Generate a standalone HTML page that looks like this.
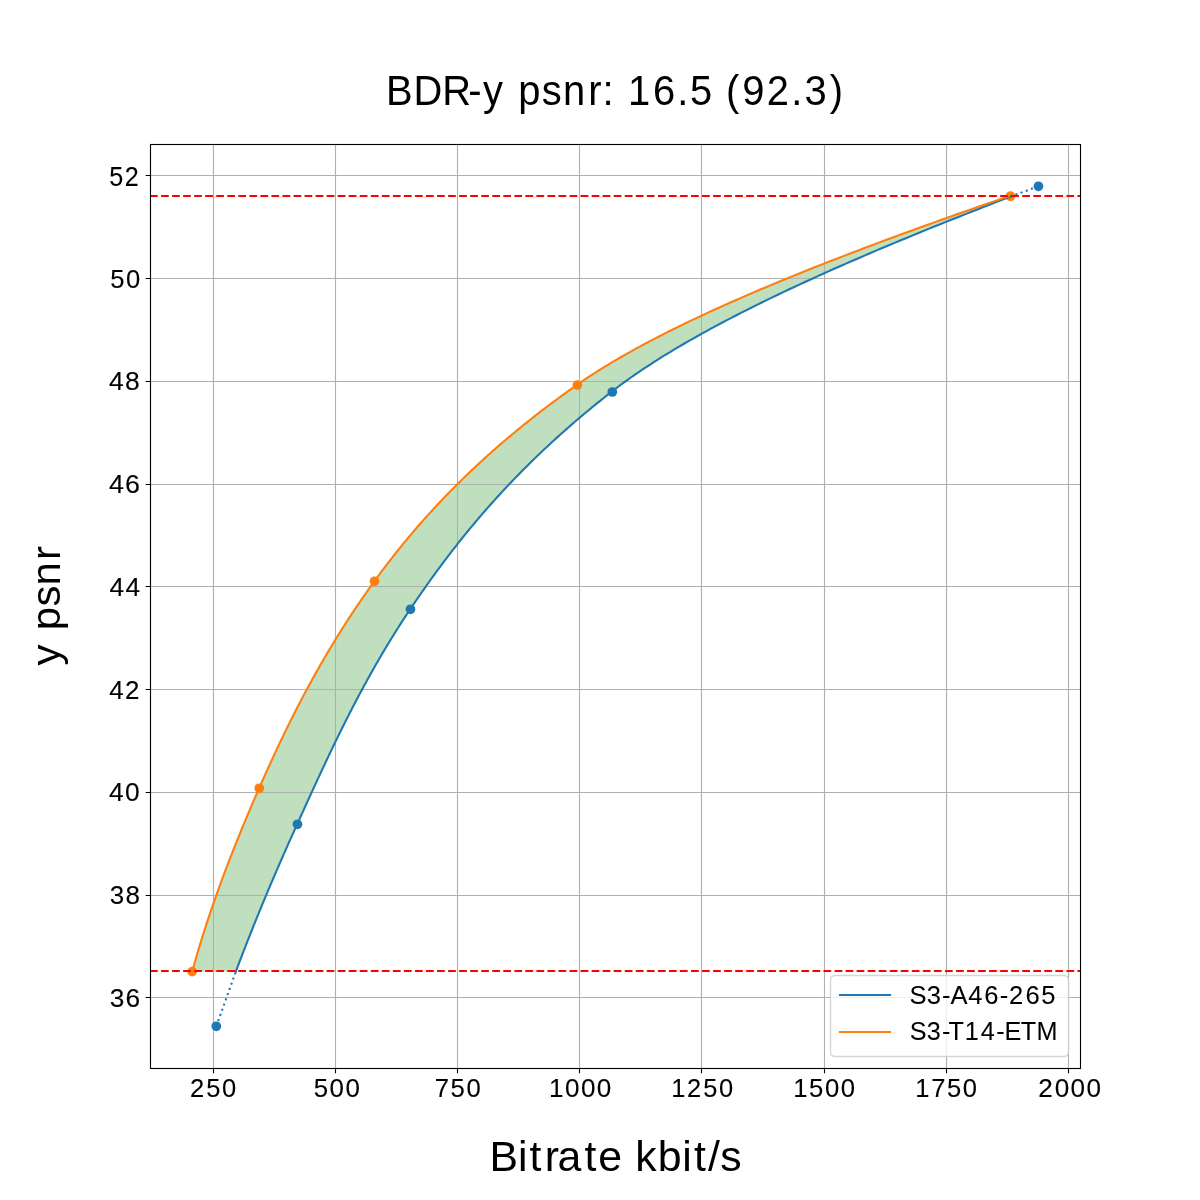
<!DOCTYPE html>
<html><head><meta charset="utf-8"><title>BDR-y psnr</title><style>
html,body{margin:0;padding:0;background:#fff;width:1200px;height:1200px;overflow:hidden}
svg{display:block;will-change:transform}
text{font-family:"Liberation Sans",sans-serif;fill:#000}
</style></head><body>
<svg width="1200" height="1200" viewBox="0 0 1200 1200">
<rect width="1200" height="1200" fill="#fff"/>
<polygon points="235.82,971.60 236.79,969.01 237.77,966.41 238.75,963.82 239.74,961.23 240.73,958.63 241.72,956.04 242.72,953.45 243.72,950.85 244.73,948.26 245.74,945.67 246.75,943.07 247.77,940.48 248.79,937.89 249.82,935.29 250.85,932.70 251.88,930.11 252.92,927.51 253.96,924.92 255.01,922.33 256.06,919.73 257.11,917.14 258.17,914.55 259.23,911.95 260.29,909.36 261.36,906.77 262.43,904.17 263.50,901.58 264.58,898.99 265.66,896.39 266.75,893.80 267.84,891.21 268.93,888.61 270.03,886.02 271.13,883.43 272.23,880.83 273.34,878.24 274.45,875.65 275.56,873.05 276.68,870.46 277.80,867.87 278.93,865.27 280.05,862.68 281.19,860.09 282.32,857.49 283.46,854.90 284.60,852.31 285.74,849.71 286.89,847.12 288.04,844.53 289.20,841.93 290.35,839.34 291.51,836.75 292.68,834.15 293.84,831.56 295.01,828.97 296.19,826.37 297.36,823.78 298.54,821.19 299.72,818.59 300.89,816.00 302.07,813.41 303.25,810.81 304.43,808.22 305.61,805.63 306.79,803.03 307.98,800.44 309.16,797.85 310.35,795.25 311.53,792.66 312.72,790.07 313.91,787.47 315.11,784.88 316.31,782.29 317.50,779.69 318.71,777.10 319.91,774.51 321.12,771.92 322.33,769.32 323.54,766.73 324.76,764.14 325.98,761.54 327.21,758.95 328.44,756.36 329.67,753.76 330.91,751.17 332.16,748.58 333.40,745.98 334.66,743.39 335.92,740.80 337.18,738.20 338.45,735.61 339.72,733.02 341.00,730.42 342.29,727.83 343.58,725.24 344.88,722.64 346.18,720.05 347.49,717.46 348.81,714.86 350.13,712.27 351.47,709.68 352.80,707.08 354.15,704.49 355.50,701.90 356.87,699.30 358.24,696.71 359.61,694.12 361.00,691.52 362.39,688.93 363.80,686.34 365.21,683.74 366.63,681.15 368.06,678.56 369.49,675.96 370.94,673.37 372.40,670.78 373.87,668.18 375.34,665.59 376.83,663.00 378.33,660.40 379.84,657.81 381.35,655.22 382.88,652.62 384.42,650.03 385.97,647.44 387.53,644.84 389.11,642.25 390.69,639.66 392.29,637.06 393.90,634.47 395.52,631.88 397.15,629.28 398.79,626.69 400.45,624.10 402.12,621.50 403.80,618.91 405.50,616.32 407.21,613.72 408.93,611.13 410.66,608.54 412.41,605.94 414.16,603.35 415.93,600.76 417.71,598.16 419.49,595.57 421.29,592.98 423.10,590.38 424.92,587.79 426.75,585.20 428.59,582.60 430.44,580.01 432.31,577.42 434.19,574.82 436.08,572.23 437.98,569.64 439.90,567.04 441.83,564.45 443.77,561.86 445.73,559.26 447.70,556.67 449.68,554.08 451.68,551.48 453.69,548.89 455.72,546.30 457.76,543.70 459.82,541.11 461.89,538.52 463.98,535.92 466.09,533.33 468.21,530.74 470.35,528.14 472.50,525.55 474.67,522.96 476.86,520.36 479.06,517.77 481.29,515.18 483.53,512.58 485.78,509.99 488.06,507.40 490.36,504.80 492.67,502.21 495.00,499.62 497.35,497.02 499.72,494.43 502.11,491.84 504.52,489.24 506.95,486.65 509.40,484.06 511.87,481.46 514.36,478.87 516.88,476.28 519.41,473.68 521.96,471.09 524.54,468.50 527.14,465.90 529.76,463.31 532.40,460.72 535.06,458.12 537.75,455.53 540.46,452.94 543.19,450.34 545.95,447.75 548.73,445.16 551.54,442.56 554.36,439.97 557.22,437.38 560.09,434.78 563.00,432.19 565.92,429.60 568.87,427.00 571.85,424.41 574.85,421.82 577.88,419.22 580.94,416.63 584.02,414.04 587.13,411.44 590.26,408.85 593.42,406.26 596.61,403.66 599.83,401.07 603.07,398.48 606.35,395.88 609.65,393.29 612.98,390.70 616.36,388.11 619.82,385.51 623.34,382.92 626.92,380.33 630.57,377.73 634.28,375.14 638.05,372.55 641.89,369.95 645.79,367.36 649.75,364.77 653.77,362.17 657.85,359.58 661.99,356.99 666.20,354.39 670.45,351.80 674.77,349.21 679.14,346.61 683.58,344.02 688.06,341.43 692.61,338.83 697.20,336.24 701.86,333.65 706.56,331.05 711.32,328.46 716.13,325.87 721.00,323.27 725.91,320.68 730.88,318.09 735.90,315.49 740.97,312.90 746.08,310.31 751.25,307.71 756.46,305.12 761.72,302.53 767.03,299.93 772.39,297.34 777.79,294.75 783.24,292.15 788.73,289.56 794.26,286.97 799.84,284.37 805.46,281.78 811.13,279.19 816.83,276.59 822.58,274.00 828.37,271.41 834.20,268.81 840.07,266.22 845.98,263.63 851.92,261.03 857.91,258.44 863.93,255.85 869.98,253.25 876.08,250.66 882.21,248.07 888.37,245.47 894.57,242.88 900.81,240.29 907.07,237.69 913.37,235.10 919.70,232.51 926.07,229.91 932.46,227.32 938.89,224.73 945.34,222.13 951.82,219.54 958.34,216.95 964.88,214.35 971.45,211.76 978.04,209.17 984.66,206.57 991.31,203.98 997.98,201.39 1004.68,198.79 1011.40,196.20 1008.90,196.20 1001.37,198.79 993.88,201.39 986.41,203.98 978.96,206.57 971.55,209.17 964.17,211.76 956.82,214.35 949.50,216.95 942.21,219.54 934.96,222.13 927.74,224.73 920.55,227.32 913.40,229.91 906.28,232.51 899.21,235.10 892.16,237.69 885.16,240.29 878.20,242.88 871.27,245.47 864.39,248.07 857.54,250.66 850.74,253.25 843.98,255.85 837.26,258.44 830.59,261.03 823.96,263.63 817.38,266.22 810.84,268.81 804.35,271.41 797.91,274.00 791.52,276.59 785.17,279.19 778.88,281.78 772.63,284.37 766.44,286.97 760.29,289.56 754.20,292.15 748.17,294.75 742.19,297.34 736.26,299.93 730.39,302.53 724.57,305.12 718.81,307.71 713.11,310.31 707.46,312.90 701.88,315.49 696.36,318.09 690.89,320.68 685.49,323.27 680.15,325.87 674.87,328.46 669.66,331.05 664.51,333.65 659.42,336.24 654.40,338.83 649.45,341.43 644.56,344.02 639.74,346.61 634.99,349.21 630.31,351.80 625.70,354.39 621.16,356.99 616.69,359.58 612.29,362.17 607.97,364.77 603.72,367.36 599.54,369.95 595.44,372.55 591.41,375.14 587.46,377.73 583.59,380.33 579.80,382.92 576.08,385.51 572.41,388.11 568.77,390.70 565.16,393.29 561.58,395.88 558.04,398.48 554.53,401.07 551.05,403.66 547.60,406.26 544.18,408.85 540.79,411.44 537.43,414.04 534.11,416.63 530.81,419.22 527.54,421.82 524.31,424.41 521.10,427.00 517.92,429.60 514.77,432.19 511.65,434.78 508.56,437.38 505.49,439.97 502.46,442.56 499.45,445.16 496.47,447.75 493.51,450.34 490.59,452.94 487.69,455.53 484.81,458.12 481.97,460.72 479.15,463.31 476.35,465.90 473.58,468.50 470.84,471.09 468.12,473.68 465.42,476.28 462.75,478.87 460.11,481.46 457.49,484.06 454.89,486.65 452.31,489.24 449.76,491.84 447.24,494.43 444.73,497.02 442.25,499.62 439.79,502.21 437.35,504.80 434.94,507.40 432.55,509.99 430.17,512.58 427.82,515.18 425.50,517.77 423.19,520.36 420.90,522.96 418.63,525.55 416.38,528.14 414.16,530.74 411.95,533.33 409.76,535.92 407.59,538.52 405.44,541.11 403.31,543.70 401.19,546.30 399.10,548.89 397.02,551.48 394.96,554.08 392.92,556.67 390.89,559.26 388.89,561.86 386.90,564.45 384.92,567.04 382.96,569.64 381.02,572.23 379.09,574.82 377.18,577.42 375.29,580.01 373.41,582.60 371.54,585.20 369.69,587.79 367.85,590.38 366.02,592.98 364.21,595.57 362.42,598.16 360.63,600.76 358.86,603.35 357.10,605.94 355.36,608.54 353.63,611.13 351.91,613.72 350.20,616.32 348.51,618.91 346.83,621.50 345.16,624.10 343.50,626.69 341.86,629.28 340.23,631.88 338.61,634.47 337.00,637.06 335.40,639.66 333.81,642.25 332.24,644.84 330.68,647.44 329.12,650.03 327.58,652.62 326.05,655.22 324.53,657.81 323.02,660.40 321.52,663.00 320.04,665.59 318.56,668.18 317.09,670.78 315.63,673.37 314.18,675.96 312.74,678.56 311.32,681.15 309.90,683.74 308.49,686.34 307.08,688.93 305.69,691.52 304.31,694.12 302.94,696.71 301.57,699.30 300.21,701.90 298.86,704.49 297.52,707.08 296.19,709.68 294.87,712.27 293.55,714.86 292.25,717.46 290.95,720.05 289.65,722.64 288.37,725.24 287.09,727.83 285.82,730.42 284.56,733.02 283.30,735.61 282.05,738.20 280.81,740.80 279.57,743.39 278.34,745.98 277.12,748.58 275.90,751.17 274.69,753.76 273.49,756.36 272.29,758.95 271.09,761.54 269.91,764.14 268.72,766.73 267.55,769.32 266.38,771.92 265.21,774.51 264.05,777.10 262.89,779.69 261.74,782.29 260.59,784.88 259.45,787.47 258.31,790.07 257.18,792.66 256.05,795.25 254.92,797.85 253.80,800.44 252.69,803.03 251.57,805.63 250.47,808.22 249.36,810.81 248.27,813.41 247.17,816.00 246.09,818.59 245.00,821.19 243.92,823.78 242.85,826.37 241.78,828.97 240.72,831.56 239.66,834.15 238.61,836.75 237.56,839.34 236.52,841.93 235.48,844.53 234.45,847.12 233.42,849.71 232.40,852.31 231.38,854.90 230.37,857.49 229.37,860.09 228.37,862.68 227.37,865.27 226.39,867.87 225.40,870.46 224.43,873.05 223.46,875.65 222.49,878.24 221.54,880.83 220.58,883.43 219.64,886.02 218.70,888.61 217.76,891.21 216.84,893.80 215.91,896.39 215.00,898.99 214.09,901.58 213.19,904.17 212.29,906.77 211.40,909.36 210.52,911.95 209.65,914.55 208.78,917.14 207.91,919.73 207.06,922.33 206.21,924.92 205.37,927.51 204.53,930.11 203.71,932.70 202.88,935.29 202.07,937.89 201.26,940.48 200.46,943.07 199.67,945.67 198.89,948.26 198.11,950.85 197.34,953.45 196.58,956.04 195.82,958.63 195.07,961.23 194.33,963.82 193.60,966.41 192.87,969.01 192.16,971.60" fill="#008000" fill-opacity="0.25" stroke="none"/>
<path d="M213.5 144V1068 M335.5 144V1068 M457.5 144V1068 M579.5 144V1068 M701.5 144V1068 M824.5 144V1068 M946.5 144V1068 M1068.5 144V1068 M150 175.5H1080 M150 278.5H1080 M150 381.5H1080 M150 484.5H1080 M150 586.5H1080 M150 689.5H1080 M150 792.5H1080 M150 895.5H1080 M150 997.5H1080" stroke="#b0b0b0" stroke-width="1.111" fill="none"/>
<circle cx="216.3" cy="1026.3" r="4.861" fill="#1f77b4"/>
<circle cx="297.45" cy="824.3" r="4.861" fill="#1f77b4"/>
<circle cx="410.45" cy="609.3" r="4.861" fill="#1f77b4"/>
<circle cx="612.3" cy="392.0" r="4.861" fill="#1f77b4"/>
<circle cx="1038.45" cy="186.3" r="4.861" fill="#1f77b4"/>
<circle cx="192.2" cy="971.6" r="4.861" fill="#ff7f0e"/>
<circle cx="259.3" cy="788.3" r="4.861" fill="#ff7f0e"/>
<circle cx="374.5" cy="581.3" r="4.861" fill="#ff7f0e"/>
<circle cx="577.4" cy="385.1" r="4.861" fill="#ff7f0e"/>
<circle cx="1010.4" cy="196.2" r="4.861" fill="#ff7f0e"/>
<polyline points="235.82,971.60 236.79,969.01 237.77,966.41 238.75,963.82 239.74,961.23 240.73,958.63 241.72,956.04 242.72,953.45 243.72,950.85 244.73,948.26 245.74,945.67 246.75,943.07 247.77,940.48 248.79,937.89 249.82,935.29 250.85,932.70 251.88,930.11 252.92,927.51 253.96,924.92 255.01,922.33 256.06,919.73 257.11,917.14 258.17,914.55 259.23,911.95 260.29,909.36 261.36,906.77 262.43,904.17 263.50,901.58 264.58,898.99 265.66,896.39 266.75,893.80 267.84,891.21 268.93,888.61 270.03,886.02 271.13,883.43 272.23,880.83 273.34,878.24 274.45,875.65 275.56,873.05 276.68,870.46 277.80,867.87 278.93,865.27 280.05,862.68 281.19,860.09 282.32,857.49 283.46,854.90 284.60,852.31 285.74,849.71 286.89,847.12 288.04,844.53 289.20,841.93 290.35,839.34 291.51,836.75 292.68,834.15 293.84,831.56 295.01,828.97 296.19,826.37 297.36,823.78 298.54,821.19 299.72,818.59 300.89,816.00 302.07,813.41 303.25,810.81 304.43,808.22 305.61,805.63 306.79,803.03 307.98,800.44 309.16,797.85 310.35,795.25 311.53,792.66 312.72,790.07 313.91,787.47 315.11,784.88 316.31,782.29 317.50,779.69 318.71,777.10 319.91,774.51 321.12,771.92 322.33,769.32 323.54,766.73 324.76,764.14 325.98,761.54 327.21,758.95 328.44,756.36 329.67,753.76 330.91,751.17 332.16,748.58 333.40,745.98 334.66,743.39 335.92,740.80 337.18,738.20 338.45,735.61 339.72,733.02 341.00,730.42 342.29,727.83 343.58,725.24 344.88,722.64 346.18,720.05 347.49,717.46 348.81,714.86 350.13,712.27 351.47,709.68 352.80,707.08 354.15,704.49 355.50,701.90 356.87,699.30 358.24,696.71 359.61,694.12 361.00,691.52 362.39,688.93 363.80,686.34 365.21,683.74 366.63,681.15 368.06,678.56 369.49,675.96 370.94,673.37 372.40,670.78 373.87,668.18 375.34,665.59 376.83,663.00 378.33,660.40 379.84,657.81 381.35,655.22 382.88,652.62 384.42,650.03 385.97,647.44 387.53,644.84 389.11,642.25 390.69,639.66 392.29,637.06 393.90,634.47 395.52,631.88 397.15,629.28 398.79,626.69 400.45,624.10 402.12,621.50 403.80,618.91 405.50,616.32 407.21,613.72 408.93,611.13 410.66,608.54 412.41,605.94 414.16,603.35 415.93,600.76 417.71,598.16 419.49,595.57 421.29,592.98 423.10,590.38 424.92,587.79 426.75,585.20 428.59,582.60 430.44,580.01 432.31,577.42 434.19,574.82 436.08,572.23 437.98,569.64 439.90,567.04 441.83,564.45 443.77,561.86 445.73,559.26 447.70,556.67 449.68,554.08 451.68,551.48 453.69,548.89 455.72,546.30 457.76,543.70 459.82,541.11 461.89,538.52 463.98,535.92 466.09,533.33 468.21,530.74 470.35,528.14 472.50,525.55 474.67,522.96 476.86,520.36 479.06,517.77 481.29,515.18 483.53,512.58 485.78,509.99 488.06,507.40 490.36,504.80 492.67,502.21 495.00,499.62 497.35,497.02 499.72,494.43 502.11,491.84 504.52,489.24 506.95,486.65 509.40,484.06 511.87,481.46 514.36,478.87 516.88,476.28 519.41,473.68 521.96,471.09 524.54,468.50 527.14,465.90 529.76,463.31 532.40,460.72 535.06,458.12 537.75,455.53 540.46,452.94 543.19,450.34 545.95,447.75 548.73,445.16 551.54,442.56 554.36,439.97 557.22,437.38 560.09,434.78 563.00,432.19 565.92,429.60 568.87,427.00 571.85,424.41 574.85,421.82 577.88,419.22 580.94,416.63 584.02,414.04 587.13,411.44 590.26,408.85 593.42,406.26 596.61,403.66 599.83,401.07 603.07,398.48 606.35,395.88 609.65,393.29 612.98,390.70 616.36,388.11 619.82,385.51 623.34,382.92 626.92,380.33 630.57,377.73 634.28,375.14 638.05,372.55 641.89,369.95 645.79,367.36 649.75,364.77 653.77,362.17 657.85,359.58 661.99,356.99 666.20,354.39 670.45,351.80 674.77,349.21 679.14,346.61 683.58,344.02 688.06,341.43 692.61,338.83 697.20,336.24 701.86,333.65 706.56,331.05 711.32,328.46 716.13,325.87 721.00,323.27 725.91,320.68 730.88,318.09 735.90,315.49 740.97,312.90 746.08,310.31 751.25,307.71 756.46,305.12 761.72,302.53 767.03,299.93 772.39,297.34 777.79,294.75 783.24,292.15 788.73,289.56 794.26,286.97 799.84,284.37 805.46,281.78 811.13,279.19 816.83,276.59 822.58,274.00 828.37,271.41 834.20,268.81 840.07,266.22 845.98,263.63 851.92,261.03 857.91,258.44 863.93,255.85 869.98,253.25 876.08,250.66 882.21,248.07 888.37,245.47 894.57,242.88 900.81,240.29 907.07,237.69 913.37,235.10 919.70,232.51 926.07,229.91 932.46,227.32 938.89,224.73 945.34,222.13 951.82,219.54 958.34,216.95 964.88,214.35 971.45,211.76 978.04,209.17 984.66,206.57 991.31,203.98 997.98,201.39 1004.68,198.79 1011.40,196.20" fill="none" stroke="#1f77b4" stroke-width="2.083" stroke-linejoin="round" stroke-linecap="square"/>
<polyline points="192.16,971.60 192.87,969.01 193.60,966.41 194.33,963.82 195.07,961.23 195.82,958.63 196.58,956.04 197.34,953.45 198.11,950.85 198.89,948.26 199.67,945.67 200.46,943.07 201.26,940.48 202.07,937.89 202.88,935.29 203.71,932.70 204.53,930.11 205.37,927.51 206.21,924.92 207.06,922.33 207.91,919.73 208.78,917.14 209.65,914.55 210.52,911.95 211.40,909.36 212.29,906.77 213.19,904.17 214.09,901.58 215.00,898.99 215.91,896.39 216.84,893.80 217.76,891.21 218.70,888.61 219.64,886.02 220.58,883.43 221.54,880.83 222.49,878.24 223.46,875.65 224.43,873.05 225.40,870.46 226.39,867.87 227.37,865.27 228.37,862.68 229.37,860.09 230.37,857.49 231.38,854.90 232.40,852.31 233.42,849.71 234.45,847.12 235.48,844.53 236.52,841.93 237.56,839.34 238.61,836.75 239.66,834.15 240.72,831.56 241.78,828.97 242.85,826.37 243.92,823.78 245.00,821.19 246.09,818.59 247.17,816.00 248.27,813.41 249.36,810.81 250.47,808.22 251.57,805.63 252.69,803.03 253.80,800.44 254.92,797.85 256.05,795.25 257.18,792.66 258.31,790.07 259.45,787.47 260.59,784.88 261.74,782.29 262.89,779.69 264.05,777.10 265.21,774.51 266.38,771.92 267.55,769.32 268.72,766.73 269.91,764.14 271.09,761.54 272.29,758.95 273.49,756.36 274.69,753.76 275.90,751.17 277.12,748.58 278.34,745.98 279.57,743.39 280.81,740.80 282.05,738.20 283.30,735.61 284.56,733.02 285.82,730.42 287.09,727.83 288.37,725.24 289.65,722.64 290.95,720.05 292.25,717.46 293.55,714.86 294.87,712.27 296.19,709.68 297.52,707.08 298.86,704.49 300.21,701.90 301.57,699.30 302.94,696.71 304.31,694.12 305.69,691.52 307.08,688.93 308.49,686.34 309.90,683.74 311.32,681.15 312.74,678.56 314.18,675.96 315.63,673.37 317.09,670.78 318.56,668.18 320.04,665.59 321.52,663.00 323.02,660.40 324.53,657.81 326.05,655.22 327.58,652.62 329.12,650.03 330.68,647.44 332.24,644.84 333.81,642.25 335.40,639.66 337.00,637.06 338.61,634.47 340.23,631.88 341.86,629.28 343.50,626.69 345.16,624.10 346.83,621.50 348.51,618.91 350.20,616.32 351.91,613.72 353.63,611.13 355.36,608.54 357.10,605.94 358.86,603.35 360.63,600.76 362.42,598.16 364.21,595.57 366.02,592.98 367.85,590.38 369.69,587.79 371.54,585.20 373.41,582.60 375.29,580.01 377.18,577.42 379.09,574.82 381.02,572.23 382.96,569.64 384.92,567.04 386.90,564.45 388.89,561.86 390.89,559.26 392.92,556.67 394.96,554.08 397.02,551.48 399.10,548.89 401.19,546.30 403.31,543.70 405.44,541.11 407.59,538.52 409.76,535.92 411.95,533.33 414.16,530.74 416.38,528.14 418.63,525.55 420.90,522.96 423.19,520.36 425.50,517.77 427.82,515.18 430.17,512.58 432.55,509.99 434.94,507.40 437.35,504.80 439.79,502.21 442.25,499.62 444.73,497.02 447.24,494.43 449.76,491.84 452.31,489.24 454.89,486.65 457.49,484.06 460.11,481.46 462.75,478.87 465.42,476.28 468.12,473.68 470.84,471.09 473.58,468.50 476.35,465.90 479.15,463.31 481.97,460.72 484.81,458.12 487.69,455.53 490.59,452.94 493.51,450.34 496.47,447.75 499.45,445.16 502.46,442.56 505.49,439.97 508.56,437.38 511.65,434.78 514.77,432.19 517.92,429.60 521.10,427.00 524.31,424.41 527.54,421.82 530.81,419.22 534.11,416.63 537.43,414.04 540.79,411.44 544.18,408.85 547.60,406.26 551.05,403.66 554.53,401.07 558.04,398.48 561.58,395.88 565.16,393.29 568.77,390.70 572.41,388.11 576.08,385.51 579.80,382.92 583.59,380.33 587.46,377.73 591.41,375.14 595.44,372.55 599.54,369.95 603.72,367.36 607.97,364.77 612.29,362.17 616.69,359.58 621.16,356.99 625.70,354.39 630.31,351.80 634.99,349.21 639.74,346.61 644.56,344.02 649.45,341.43 654.40,338.83 659.42,336.24 664.51,333.65 669.66,331.05 674.87,328.46 680.15,325.87 685.49,323.27 690.89,320.68 696.36,318.09 701.88,315.49 707.46,312.90 713.11,310.31 718.81,307.71 724.57,305.12 730.39,302.53 736.26,299.93 742.19,297.34 748.17,294.75 754.20,292.15 760.29,289.56 766.44,286.97 772.63,284.37 778.88,281.78 785.17,279.19 791.52,276.59 797.91,274.00 804.35,271.41 810.84,268.81 817.38,266.22 823.96,263.63 830.59,261.03 837.26,258.44 843.98,255.85 850.74,253.25 857.54,250.66 864.39,248.07 871.27,245.47 878.20,242.88 885.16,240.29 892.16,237.69 899.21,235.10 906.28,232.51 913.40,229.91 920.55,227.32 927.74,224.73 934.96,222.13 942.21,219.54 949.50,216.95 956.82,214.35 964.17,211.76 971.55,209.17 978.96,206.57 986.41,203.98 993.88,201.39 1001.37,198.79 1008.90,196.20" fill="none" stroke="#ff7f0e" stroke-width="2.083" stroke-linejoin="round" stroke-linecap="square"/>
<line x1="216.3" y1="1026.3" x2="235.82" y2="971.60" stroke="#1f77b4" stroke-width="2.083" stroke-dasharray="2.083 3.438"/>
<line x1="1010.18" y1="196.65" x2="1038.45" y2="186.3" stroke="#1f77b4" stroke-width="2.083" stroke-dasharray="2.083 3.438"/>
<line x1="150" y1="196.0" x2="1080" y2="196.0" stroke="#ff0000" stroke-width="2.083" stroke-dasharray="7.708 3.333"/>
<line x1="150" y1="971.0" x2="1080" y2="971.0" stroke="#ff0000" stroke-width="2.083" stroke-dasharray="7.708 3.333"/>
<rect x="830.5" y="975.5" width="238" height="81" rx="4.5" ry="4.5" fill="#fff" fill-opacity="0.8" stroke="#ccc" stroke-opacity="0.8" stroke-width="1.389"/>
<line x1="840" y1="995" x2="890" y2="995" stroke="#1f77b4" stroke-width="2.083" stroke-linecap="square"/>
<line x1="840" y1="1032" x2="890" y2="1032" stroke="#ff7f0e" stroke-width="2.083" stroke-linecap="square"/>
<rect x="150.5" y="144.5" width="930" height="924" fill="none" stroke="#000" stroke-width="1.111"/>
<path d="M213.5 1068V1073.36 M335.5 1068V1073.36 M457.5 1068V1073.36 M579.5 1068V1073.36 M701.5 1068V1073.36 M824.5 1068V1073.36 M946.5 1068V1073.36 M1068.5 1068V1073.36 M151 175.5H145.64 M151 278.5H145.64 M151 381.5H145.64 M151 484.5H145.64 M151 586.5H145.64 M151 689.5H145.64 M151 792.5H145.64 M151 895.5H145.64 M151 997.5H145.64" stroke="#000" stroke-width="1.111" fill="none"/>
<g>
<text transform="translate(189.50 1097.00) scale(0.9568 1)" x="0.54 17.50 34.06" y="0" font-size="26.70" stroke="#000" stroke-width="0.12">250</text>
<text transform="translate(313.00 1097.00) scale(0.9686 1)" x="0.68 17.04 33.43" y="0" font-size="26.70" stroke="#000" stroke-width="0.12">500</text>
<text transform="translate(434.00 1097.00) scale(0.9614 1)" x="0.79 17.25 33.74" y="0" font-size="26.70" stroke="#000" stroke-width="0.12">750</text>
<text transform="translate(548.50 1097.00) scale(0.9768 1)" x="0.58 16.96 33.22 49.47" y="0" font-size="26.70" stroke="#000" stroke-width="0.12">1000</text>
<text transform="translate(670.50 1097.00) scale(0.9535 1)" x="0.78 17.21 34.24 50.86" y="0" font-size="26.70" stroke="#000" stroke-width="0.12">1250</text>
<text transform="translate(792.50 1097.00) scale(0.9626 1)" x="0.70 17.22 33.68 50.18" y="0" font-size="26.70" stroke="#000" stroke-width="0.12">1500</text>
<text transform="translate(914.50 1097.00) scale(0.9570 1)" x="0.75 17.42 33.96 50.51" y="0" font-size="26.70" stroke="#000" stroke-width="0.12">1750</text>
<text transform="translate(1038.00 1097.00) scale(0.9784 1)" x="0.36 17.05 33.28 49.50" y="0" font-size="26.70" stroke="#000" stroke-width="0.12">2000</text>
<text transform="translate(108.50 185.50) scale(0.9412 1)" x="0.91 17.40" y="0" font-size="26.70" stroke="#000" stroke-width="0.12">52</text>
<text transform="translate(109.50 288.00) scale(0.9594 1)" x="0.76 17.28" y="0" font-size="26.70" stroke="#000" stroke-width="0.12">50</text>
<text transform="translate(108.50 390.00) scale(0.9922 1)" x="0.58 16.71" y="0" font-size="26.70" stroke="#000" stroke-width="0.12">48</text>
<text transform="translate(108.50 493.00) scale(1.0036 1)" x="0.49 16.44" y="0" font-size="26.70" stroke="#000" stroke-width="0.12">46</text>
<text transform="translate(109.00 596.00) scale(0.9871 1)" x="0.62 16.83" y="0" font-size="26.70" stroke="#000" stroke-width="0.12">44</text>
<text transform="translate(108.50 699.00) scale(0.9702 1)" x="0.76 16.92" y="0" font-size="26.70" stroke="#000" stroke-width="0.12">42</text>
<text transform="translate(108.50 801.00) scale(0.9871 1)" x="0.62 16.84" y="0" font-size="26.70" stroke="#000" stroke-width="0.12">40</text>
<text transform="translate(109.00 904.00) scale(0.9727 1)" x="0.78 17.07" y="0" font-size="26.70" stroke="#000" stroke-width="0.12">38</text>
<text transform="translate(109.00 1007.00) scale(0.9842 1)" x="0.68 16.78" y="0" font-size="26.70" stroke="#000" stroke-width="0.12">36</text>
<text transform="translate(910.00 1004.00) scale(0.9646 1)" x="-0.47 17.36 33.18 41.88 60.47 77.07 93.05 102.77 119.70 136.18" y="0" font-size="26.50" stroke="#000" stroke-width="0.06">S3-A46-265</text>
<text transform="translate(910.00 1040.00) scale(0.9512 1)" x="-0.36 17.71 33.71 40.54 57.63 74.44 90.61 99.27 116.50 133.03" y="0" font-size="26.50" stroke="#000" stroke-width="0.06">S3-T14-ETM</text>
<text transform="translate(386.00 105.00) scale(0.9433 1)" x="-0.02 29.04 59.75 87.33 102.73 125.50 140.21 165.17 187.58 214.41 229.54 242.25 256.50 283.08 308.76 322.41 347.33 360.39 377.70 403.66 429.75 443.61 470.52" y="0" font-size="42.30">BDR-y psnr: 16.5 (92.3)</text>
<text transform="translate(490.50 1171.00) scale(1.0121 1)" x="-1.02 27.09 38.60 53.54 66.33 92.95 106.48 130.06 143.07 165.17 189.51 201.02 215.01 227.10" y="0" font-size="42.30">Bitrate kbit/s</text>
<text transform="translate(60.00 666.50) rotate(-90) scale(1.0421 1)" x="0.97 22.07 34.82 57.50 77.72 102.18" y="0" font-size="40.25">y psnr</text>
</g>
</svg>
</body></html>
